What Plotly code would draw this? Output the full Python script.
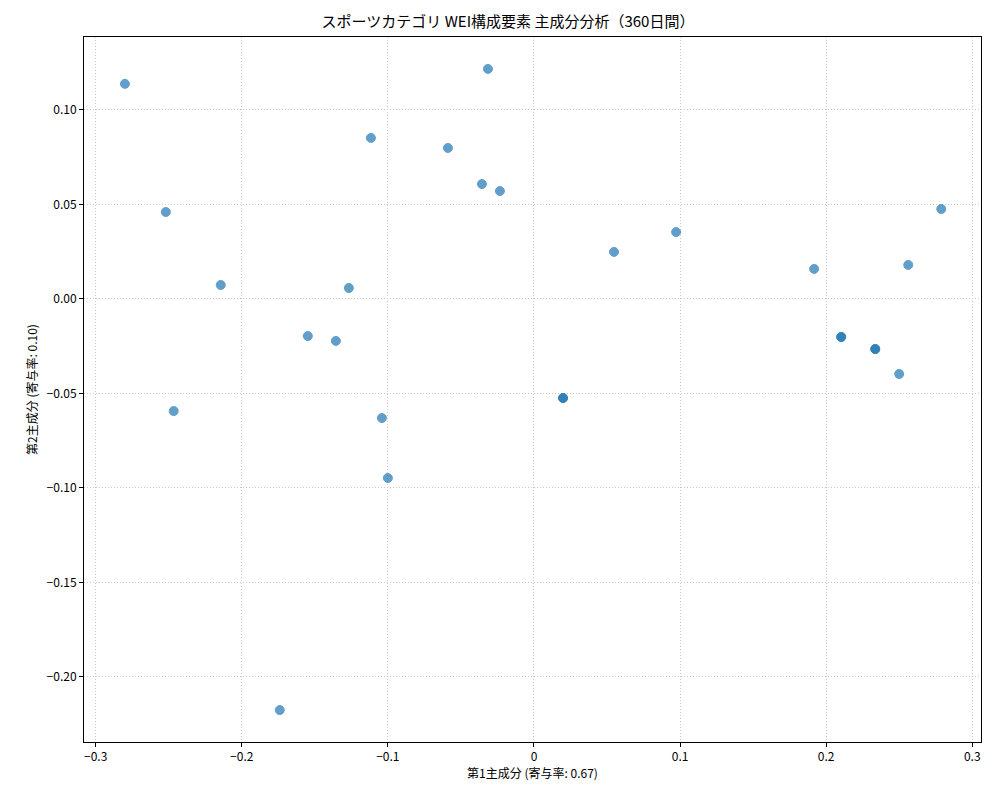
import plotly.graph_objects as go

# PCA scores (duplicates drawn twice)
pc1 = [-0.280, -0.0315, -0.1116, -0.0589, -0.0356, -0.0233, -0.252, 0.0548, 0.0973,
       0.2788, 0.1918, 0.2562, -0.2144, -0.1267, -0.1548, -0.1356, 0.2103, 0.2103,
       0.2336, 0.2336, 0.250, 0.0199, 0.0199, -0.2466, -0.1041, -0.100, -0.174]
pc2 = [0.1138, 0.1217, 0.0852, 0.0799, 0.0608, 0.0571, 0.046, 0.0249, 0.0354,
       0.0476, 0.0159, 0.018, 0.0074, 0.0058, -0.0196, -0.0222, -0.0201, -0.0201,
       -0.0265, -0.0265, -0.0397, -0.0524, -0.0524, -0.0593, -0.063, -0.0947, -0.2175]

font = "Noto Sans CJK JP"

fig = go.Figure(go.Scatter(
    x=pc1, y=pc2, mode="markers",
    marker=dict(color="#1f77b4", size=9, opacity=0.7, line=dict(width=1, color="#1f77b4")),
))

axis = dict(showline=True, mirror=True, linecolor="black", linewidth=1,
            ticks="outside", ticklen=4, tickcolor="black", automargin=False,
            showgrid=True, gridcolor="#c8c8c8", griddash="1px,2px", zeroline=False,
            tickfont=dict(size=12, color="black"))

# the page adds an 8px offset, so margins are shifted to compensate
fig.update_layout(
    width=1000, height=800,
    plot_bgcolor="white", paper_bgcolor="white",
    font=dict(family=font, color="black"),
    margin=dict(l=76, r=27, t=29, b=66),
    showlegend=False,
    title=dict(text="スポーツカテゴリ WEI構成要素 主成分分析（360日間）",
               x=0.5, xanchor="center", y=0.99, yanchor="top", font=dict(size=15)),
    xaxis=dict(axis, range=[-0.308, 0.306], tickvals=[-0.3, -0.2, -0.1, 0, 0.1, 0.2, 0.3],
               ticktext=["−0.3", "−0.2", "−0.1", "0", "0.1", "0.2", "0.3"],
               title=dict(text="第1主成分 (寄与率: 0.67)", font=dict(size=12), standoff=6)),
    yaxis=dict(axis, range=[-0.2344, 0.1386],
               tickvals=[-0.2, -0.15, -0.1, -0.05, 0, 0.05, 0.1],
               ticktext=["−0.20", "−0.15", "−0.10", "−0.05", "0.00", "0.05", "0.10"],
               title=dict(text="第2主成分 (寄与率: 0.10)", font=dict(size=12), standoff=6)),
)

fig.write_html("out.html")
